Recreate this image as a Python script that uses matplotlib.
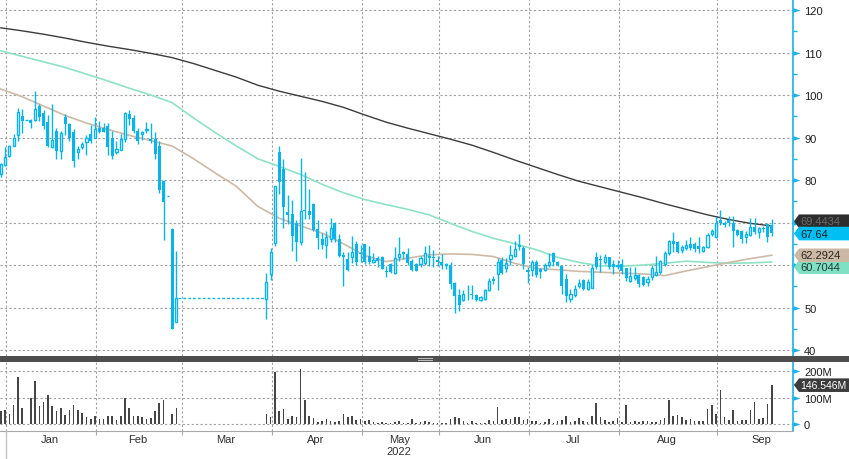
import numpy as np
import matplotlib
matplotlib.use('Agg')
import matplotlib.pyplot as plt
from matplotlib.patches import Polygon, Rectangle
from matplotlib.lines import Line2D
from matplotlib.path import Path

plt.rcParams['font.family'] = ['Liberation Sans', 'DejaVu Sans']

# ---- data: one slot per exchange day, slots 42-61 = market closed ----
nan = np.nan
closed = [nan] * 20

opens = [81.5, 83.6, 85.7, 88.1, 90.7, 95.0, 94.1, 94.1, 94.2, 97.5,
         95.7, 93.6, 87.8, 91.5, 86.8, 94.9, 93.2, 91.4, 86.5, 87.7,
         88.9, 90.8, 90.0, 92.2, 92.3, 92.8, 90.0, 86.5, 87.1, 89.6,
         95.5, 94.6, 91.6, 90.8, 91.8, 89.6, 89.6, 88.1, 79.8, 76.2,
         68.5, 46.5] + closed + [
         52.0, 57.9, 65.1, 86.5, 82.7, 72.5, 72.0, 70.0, 65.3, 72.9,
         72.8, 74.4, 68.5, 66.1, 64.7, 66.1, 70.0, 66.1, 62.4, 61.4,
         61.8, 64.9, 62.9, 64.9, 62.2, 60.8, 61.6, 62.0, 58.5, 60.2,
         58.1, 62.0, 63.0, 62.6, 61.0, 60.2, 60.2, 60.5, 62.2, 62.0,
         61.1, 60.8, 60.0, 60.0, 55.8, 52.9, 51.8, 53.2, 53.1, 52.9,
         51.8, 52.0, 54.2, 56.7, 57.9, 61.2, 59.3, 61.3, 62.2, 64.7,
         64.0, 58.9, 58.9, 60.6, 59.1, 58.9, 60.0, 62.8, 60.6, 59.7,
         56.7, 52.0, 52.9, 55.0, 56.5, 54.4, 54.7, 62.0, 61.5, 60.6,
         61.8, 60.3, 59.8, 60.2, 59.2, 56.3, 56.9, 57.6, 57.1, 56.1,
         57.1, 57.6, 58.3, 60.2, 62.8, 65.7, 65.3, 63.6, 63.9, 64.9,
         64.9, 64.4, 63.4, 64.2, 67.3, 66.5, 70.7, 70.0, 70.7, 70.0,
         68.3, 67.9, 66.5, 67.1, 68.9, 67.7, 68.6, 69.6, 69.4]

highs = [84.0, 87.7, 88.3, 90.8, 96.9, 96.6, 94.1, 94.3, 101.0, 97.8,
         96.5, 95.3, 97.9, 92.2, 91.6, 95.5, 93.5, 92.0, 88.0, 89.0,
         90.5, 93.0, 94.8, 94.0, 93.5, 93.3, 91.5, 89.1, 90.8, 96.1,
         96.5, 95.2, 92.2, 91.6, 93.6, 93.3, 91.2, 89.2, 80.0, 76.2,
         68.6, 63.4] + closed + [
         58.1, 64.1, 78.7, 88.1, 84.9, 76.5, 75.3, 70.5, 85.2, 82.0,
         77.9, 74.5, 70.5, 67.5, 68.0, 71.0, 70.2, 67.2, 63.0, 63.0,
         66.8, 65.6, 64.6, 65.0, 64.5, 62.8, 62.2, 62.2, 59.8, 60.5,
         64.2, 66.5, 63.2, 64.0, 61.3, 60.5, 62.2, 64.5, 64.6, 63.5,
         62.2, 62.5, 60.5, 60.6, 56.0, 54.4, 54.2, 55.2, 55.2, 53.2,
         52.6, 54.3, 57.0, 57.3, 61.6, 62.0, 61.6, 64.8, 65.7, 67.3,
         64.5, 59.5, 61.2, 61.2, 59.4, 60.5, 62.8, 63.1, 61.0, 60.0,
         58.0, 54.3, 55.3, 56.8, 56.7, 56.6, 59.9, 63.1, 62.4, 62.5,
         62.0, 61.2, 61.2, 61.5, 59.4, 59.5, 59.5, 58.0, 57.5, 57.4,
         60.0, 62.2, 61.2, 63.2, 66.0, 67.7, 65.6, 64.6, 66.0, 66.5,
         65.4, 66.6, 64.5, 67.5, 68.5, 71.2, 73.0, 70.3, 71.6, 71.6,
         68.5, 68.2, 68.0, 71.1, 71.0, 69.0, 69.1, 70.0, 70.8]

lows = [80.8, 83.3, 85.5, 87.9, 89.2, 91.0, 94.1, 92.2, 93.8, 94.0,
        92.0, 87.7, 87.5, 84.9, 85.0, 90.6, 89.1, 83.1, 85.0, 87.2,
        86.0, 88.6, 89.8, 91.0, 91.2, 85.9, 85.0, 86.2, 87.0, 89.0,
        93.0, 91.0, 88.5, 89.3, 91.0, 88.8, 85.0, 77.0, 65.9, 76.2,
        44.9, 46.5] + closed + [
        47.3, 56.5, 64.5, 76.7, 68.6, 69.6, 63.4, 61.0, 64.8, 70.8,
        70.8, 68.0, 63.8, 63.8, 61.6, 65.5, 65.5, 62.0, 55.1, 58.5,
        60.5, 60.0, 60.8, 60.3, 60.3, 60.4, 59.5, 59.0, 57.1, 58.2,
        57.8, 61.0, 61.5, 60.0, 58.5, 58.5, 59.5, 60.0, 59.8, 59.5,
        59.8, 59.0, 59.0, 54.4, 48.7, 49.2, 51.6, 51.8, 52.0, 51.5,
        51.6, 51.8, 54.0, 55.5, 54.2, 57.9, 58.4, 60.0, 62.0, 63.6,
        59.0, 55.8, 57.5, 57.2, 57.0, 58.6, 59.6, 59.8, 59.7, 53.2,
        51.2, 51.3, 52.5, 54.6, 54.2, 54.1, 54.5, 59.0, 58.4, 60.2,
        59.0, 57.9, 59.0, 57.9, 56.3, 56.0, 56.5, 54.9, 55.0, 55.0,
        56.5, 57.3, 58.0, 59.7, 62.4, 63.0, 62.8, 62.9, 63.6, 63.5,
        63.0, 62.9, 63.0, 64.0, 66.8, 66.3, 69.4, 69.0, 69.2, 64.2,
        66.8, 65.1, 65.2, 66.8, 67.4, 66.4, 67.7, 65.5, 66.8]

closes = [83.8, 85.3, 88.1, 90.0, 95.9, 94.0, 94.1, 93.5, 96.7, 94.8,
          92.6, 88.1, 89.4, 86.9, 91.0, 93.2, 90.0, 84.5, 87.3, 88.5,
          89.8, 89.2, 92.0, 91.4, 91.4, 87.8, 85.7, 87.3, 89.6, 95.7,
          94.4, 91.6, 89.1, 91.2, 92.0, 89.2, 86.1, 77.6, 74.9, 76.2,
          45.0, 52.3] + closed + [
          55.9, 63.0, 78.5, 79.5, 73.7, 71.8, 66.9, 65.3, 72.8, 72.7,
          71.8, 68.3, 66.3, 64.7, 66.5, 68.6, 66.1, 62.2, 61.8, 58.9,
          63.1, 60.8, 62.5, 60.6, 60.6, 61.1, 61.0, 59.1, 58.4, 58.4,
          61.6, 62.6, 62.6, 60.5, 58.9, 58.7, 61.6, 62.8, 61.6, 61.6,
          60.6, 60.0, 60.0, 55.5, 52.6, 50.6, 53.2, 53.1, 52.9, 51.8,
          52.4, 54.1, 56.2, 56.3, 60.6, 58.1, 60.5, 62.4, 63.8, 64.2,
          60.2, 58.3, 60.6, 57.6, 58.4, 60.1, 60.8, 60.6, 60.0, 55.1,
          52.6, 53.2, 54.4, 55.8, 54.4, 55.9, 59.2, 59.5, 61.1, 61.8,
          59.5, 59.5, 60.1, 58.7, 57.0, 57.3, 57.6, 55.5, 55.3, 56.7,
          59.2, 58.4, 61.0, 62.8, 65.7, 64.9, 63.1, 64.2, 64.7, 63.9,
          63.8, 63.8, 64.2, 67.1, 67.9, 70.0, 69.9, 69.5, 69.9, 68.1,
          67.1, 66.1, 67.3, 68.9, 67.7, 68.6, 68.4, 66.7, 67.64]

# volume in millions
volume = [49, 53, 39, 72, 177, 60, 0, 99, 162, 68,
          83, 109, 69, 49, 60, 34, 53, 72, 53, 42,
          26, 19, 30, 19, 19, 30, 30, 15, 30, 99,
          60, 30, 30, 26, 19, 23, 49, 79, 91, 0,
          38, 60] + [0] * 20 + [
          38, 28, 196, 49, 57, 19, 30, 26, 208, 91,
          30, 23, 9, 11, 19, 11, 8, 11, 38, 26,
          30, 15, 19, 11, 15, 8, 4, 8, 4, 5,
          8, 13, 4, 4, 19, 4, 8, 11, 8, 4,
          4, 4, 4, 19, 26, 23, 11, 4, 11, 4,
          4, 4, 15, 11, 64, 15, 19, 19, 26, 26,
          15, 19, 11, 11, 4, 8, 19, 4, 11, 15,
          30, 8, 11, 23, 11, 8, 30, 79, 26, 15,
          8, 11, 23, 8, 72, 8, 11, 8, 11, 11,
          8, 8, 15, 23, 91, 30, 34, 26, 15, 19,
          11, 11, 11, 57, 72, 38, 128, 26, 15, 53,
          11, 15, 15, 53, 83, 19, 23, 75, 146.546]

# moving averages read every 5 slots
ma_x = list(range(0, 181, 5))
ma200 = [115.8, 115.1, 114.3, 113.4, 112.4, 111.5, 110.7, 109.8, 108.8, 107.4,
         105.8, 104.2, 102.3, 100.9, 99.7, 98.5, 97.1, 95.3, 93.6, 92.2,
         90.9, 89.6, 88.2, 86.5, 84.7, 83.0, 81.3, 79.7, 78.4, 77.1,
         75.8, 74.4, 73.1, 71.8, 70.7, 69.8, 69.2]
ma100 = [110.4, 109.1, 107.8, 106.5, 104.9, 103.3, 101.6, 100.0, 98.2, 94.6,
         91.2, 88.0, 85.0, 83.2, 81.3, 79.0, 77.0, 75.4, 74.2, 73.1,
         71.8, 69.8, 67.9, 66.3, 65.0, 63.6, 61.8, 60.6, 59.8, 59.7,
         60.0, 60.4, 60.9, 60.6, 60.4, 60.5, 60.7]
ma50 = [101.4, 99.6, 97.4, 95.2, 93.4, 91.9, 90.5, 89.3, 88.0, 85.0,
        81.7, 78.5, 73.8, 71.0, 69.2, 67.5, 65.0, 62.2, 60.8, 61.6,
        62.4, 62.6, 62.5, 62.0, 60.4, 59.2, 58.9, 58.5, 58.3, 58.1,
        57.9, 57.5, 58.6, 59.6, 60.6, 61.5, 62.3]

months = ['Jan', 'Feb', 'Mar', 'Apr', 'May', 'Jun', 'Jul', 'Aug', 'Sep']
month_start = [1, 22, 42, 63, 84, 102, 123, 144, 167]
month_end = 188

# ---- styling ----
BLUE = '#0ab4ea'
AXBLUE = '#1ab2e8'
GRID = '#a0a0a0'
W, H = 849, 460

fig = plt.figure(figsize=(W / 100, H / 100), dpi=100)
fig.patch.set_facecolor('white')
ax = fig.add_axes([0, 103 / H, 793 / W, 357 / H])
axv = fig.add_axes([0, 28 / H, 793 / W, 69 / H])

x = np.arange(len(closes))
o = np.array(opens); hi = np.array(highs); lo = np.array(lows); c = np.array(closes)
ok = ~np.isnan(c)
up = ok & (c >= o)
dn = ok & (c < o)
bot = np.minimum(o, c)
hgt = np.maximum(np.abs(c - o), 0.12)

# gridlines
for v in range(40, 121, 10):
    ax.axhline(v, color=GRID, lw=0.8, ls=(0, (2, 2)), zorder=0)
for v in (0, 100, 200):
    axv.axhline(v, color=GRID, lw=0.8, ls=(0, (2, 2)), zorder=0)
for m in month_start:
    ax.axvline(m + 0.25, color=GRID, lw=0.8, ls=(0, (2, 2)), zorder=0)
    axv.axvline(m + 0.25, color=GRID, lw=0.8, ls=(0, (2, 2)), zorder=0)

# moving averages
ax.plot(ma_x, ma200, color='#3c3c3c', lw=1.0, zorder=2)
ax.plot(ma_x, ma100, color='#8ee2c6', lw=1.2, zorder=2)
ax.plot(ma_x, ma50, color='#cdbaa6', lw=1.2, zorder=2)

# gap while exchange was closed
gap_from = 41
gap_to = 62
ax.plot([gap_from + 0.4, gap_to - 0.4], [c[gap_from], c[gap_from]],
        color=BLUE, lw=1, ls=(0, (2, 1.5)), zorder=3)

# candles
ax.vlines(x[ok], lo[ok], hi[ok], color=BLUE, lw=1, zorder=3)
ax.bar(x[dn], hgt[dn], bottom=bot[dn], width=0.7, color=BLUE, lw=0, zorder=4)
ax.bar(x[up], hgt[up], bottom=bot[up], width=0.5, facecolor='white',
       edgecolor=BLUE, lw=1, zorder=4)

# volume
axv.bar(x, volume, width=0.38, color='#454545', lw=0, zorder=3)

xl = (-0.19, 184.96)
ax.set_xlim(xl)
axv.set_xlim(xl)
ax.set_ylim(38.59, 122.59)
axv.set_ylim(-26.4, 234.0)

tri = Path([(0, -1), (3, 0), (0, 1), (0, -1)],
           [Path.MOVETO, Path.LINETO, Path.LINETO, Path.CLOSEPOLY])

def right_axis(a, major, labels, minor):
    for s in ('top', 'left', 'bottom'):
        a.spines[s].set_visible(False)
    a.spines['right'].set_color(AXBLUE)
    a.spines['right'].set_linewidth(1.2)
    a.yaxis.tick_right()
    a.set_yticks(major)
    a.set_yticklabels(labels)
    a.set_yticks(minor, minor=True)
    a.tick_params(axis='y', which='major', length=0, pad=8, labelsize=8,
                  labelcolor='#1e1e1e')
    a.tick_params(axis='y', which='minor', length=3, width=1, color=AXBLUE)
    a.plot([1] * len(major), major, ls='none', marker=tri, ms=10, mew=0,
           color=AXBLUE, transform=a.get_yaxis_transform(), clip_on=False,
           zorder=6)

# 60 and 70 sit under the value tags, so their labels stay blank
price_ticks = list(range(40, 121, 10))
price_labels = ['' if v in (60, 70) else str(v) for v in price_ticks]
right_axis(ax, price_ticks, price_labels, list(range(45, 120, 10)))
right_axis(axv, [0, 100, 200], ['0', '100M', '200M'], [50, 150])

ax.tick_params(axis='x', which='both', bottom=False, labelbottom=False)
axv.spines['bottom'].set_visible(True)
axv.spines['bottom'].set_color('#a8a8a8')
axv.set_xticks([m + 0.25 for m in month_start])
axv.set_xticklabels([])
centers = [(a + b) / 2 for a, b in zip(month_start, month_start[1:] + [month_end])]
axv.set_xticks(centers, minor=True)
axv.set_xticklabels(months, minor=True)
axv.tick_params(axis='x', which='major', length=3, color='#a8a8a8')
axv.tick_params(axis='x', which='minor', length=0, pad=2.5, labelsize=8,
                labelcolor='#303030')
axv.text(centers[4], -0.29, '2022', transform=axv.get_xaxis_transform(),
         ha='center', va='center', fontsize=8, color='#303030')

# year separator below the axis
fig.add_artist(Line2D([5.5 / W, 5.5 / W], [0, 28 / H], color='#c4c4c4', lw=1,
                      transform=fig.transFigure))

# panel separator
fig.add_artist(Rectangle((0, (H - 363) / H), 1, 6 / H, transform=fig.transFigure,
                         fc='#4e4e4e', ec='none', zorder=5))
for dy in (1.3, 3.3):
    fig.add_artist(Line2D([418 / W, 432 / W], [(H - 363 + dy + 0.5) / H] * 2,
                          color='#c0c0c0', lw=0.7, transform=fig.transFigure, zorder=6))

# value tags on the right
def tag(a, value, text, face, color, size=8):
    y = a.transData.transform((0, value))[1]
    x0 = a.transAxes.transform((1, 0))[0]
    h = 6.8
    pts = [(x0 + 1, y), (x0 + 6, y + h), (W, y + h), (W, y - h), (x0 + 6, y - h)]
    fig.add_artist(Polygon(pts, closed=True, transform=None, fc=face, ec='none',
                           zorder=7))
    fig.text((x0 + 7.5) / W, y / H, text, ha='left', va='center',
             fontsize=size, color=color, zorder=8)

tag(ax, 70.3, '69.4434', '#2e2e2e', '#6a6a6a')
tag(ax, 67.4, '67.64', '#00bff3', '#10202a')
tag(ax, 59.5, '60.7044', '#7fe0c4', '#1e3a30')
tag(ax, 62.29, '62.2924', '#ccb9a5', '#2a241e')
tag(axv, 146.546, '146.546M', '#3c3c3c', 'white', size=7.5)

fig.savefig('out.png', dpi=100, facecolor='white')
